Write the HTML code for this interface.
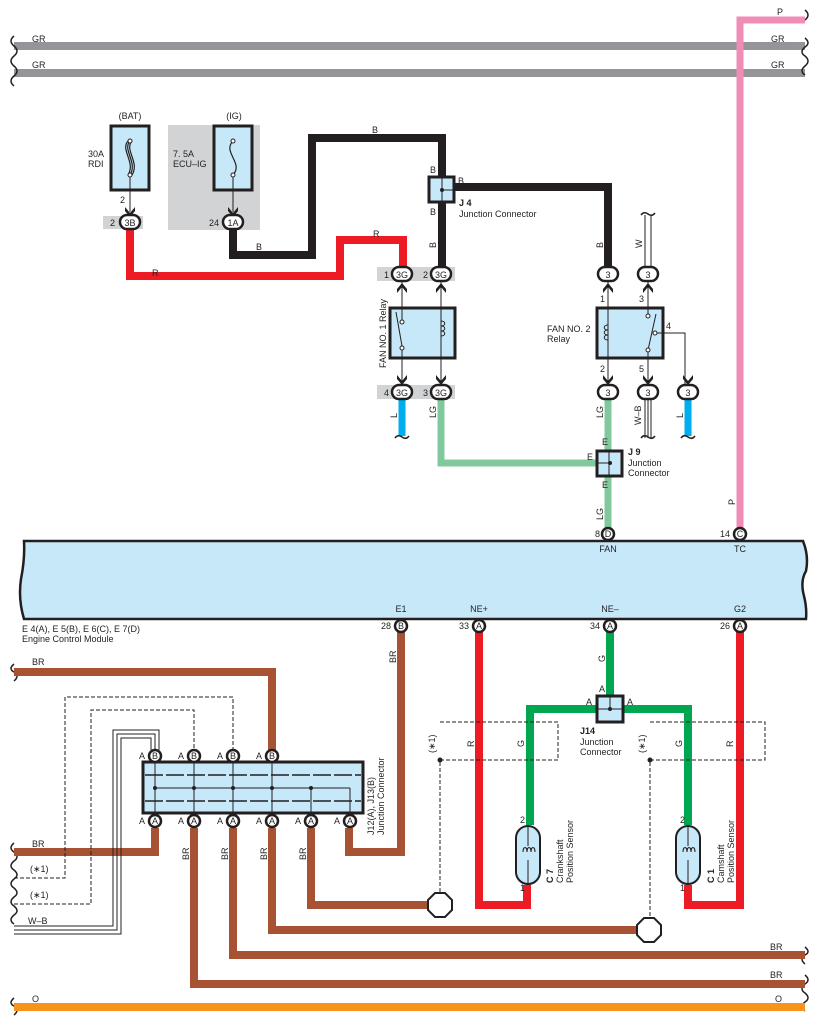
<!DOCTYPE html>
<html><head><meta charset="utf-8"><style>
html,body{margin:0;padding:0;background:#fff}
svg{display:block}
text{font-family:"Liberation Sans",sans-serif;font-size:9px;fill:#231f20}
</style></head><body>
<svg width="817" height="1030" viewBox="0 0 817 1030" xmlns="http://www.w3.org/2000/svg">
<defs>
<g id="ad"><path d="M-5,-5 L0,1 L5,-5 L5,-1 L0,5 L-5,-1Z" fill="#231f20"/></g>
</defs>
<g fill="none" stroke-linejoin="miter">
<path d="M14,46H805M14,73H805" stroke="#939598" stroke-width="8"/>
<g stroke="#231f20" stroke-width="1.5">
<path d="M14,36q-6,5 0,10q6,5 0,10q-6,5 0,10q6,5 0,10q-6,5 0,10"/>
<path d="M14,664q-6,5 0,8q6,4 0,9"/>
<path d="M14,843q-6,5 0,9q6,5 0,9q-6,5 0,9q6,5 0,9q-6,5 0,9q6,5 0,9q-6,5 0,9q6,5 0,9q-6,5 0,9"/>
<path d="M14,998q-6,5 0,8q6,4 0,9"/>
<path d="M805,10q6,5 0,10M805,38q6,5 0,9q-6,5 0,9q6,5 0,10q-6,5 0,9"/>
<path d="M805,947q6,5 0,8q-6,4 0,9M805,975q6,5 0,9q-6,5 0,9q6,5 0,9q-6,5 0,9"/>
</g>
<path d="M740,528V20H805" stroke="#f08cb6" stroke-width="7"/>
</g>
<rect x="168" y="125" width="92" height="105" fill="#d1d3d4"/>
<rect x="103" y="216" width="40" height="13" fill="#d1d3d4"/>
<rect x="377" y="267" width="78" height="14" fill="#d1d3d4"/>
<rect x="377" y="385" width="78" height="14" fill="#d1d3d4"/>
<g fill="none">
<path d="M130,229V276H340V240H403V268" stroke="#ed1c24" stroke-width="8"/>
<path d="M233,229V255H312V138H442V180M442,203V268M455,187H608V268" stroke="#231f20" stroke-width="8"/>
<path d="M402,399V436" stroke="#00aeef" stroke-width="7"/>
<path d="M441,399V463H600" stroke="#80c99c" stroke-width="7"/>
<path d="M608,399V452M608,476V528" stroke="#80c99c" stroke-width="7"/>
<path d="M688,399V436" stroke="#00aeef" stroke-width="7"/>
<path d="M645,215V267M651,215V267" stroke="#231f20" stroke-width="1"/>
<path d="M645,399V438M648,399V438M651,399V438" stroke="#231f20" stroke-width="1"/>
<g stroke="#231f20" stroke-width="1.5">
<path d="M395,438q3,-4 7,-1q4,3 7,-1"/>
<path d="M641,215q3,-4 7,-1q4,3 7,-1"/>
<path d="M641,438q3,-4 7,-1q4,3 7,-1"/>
<path d="M681,438q3,-4 7,-1q4,3 7,-1"/>
</g>
<path d="M24,541H803q6,15 3,30q-6,10 -2,25q3,12 2,23H24q-6,-20 -3,-40q4,-20 3,-38Z" fill="#c7e8f9" stroke="#231f20" stroke-width="2.5"/>
<path d="M401,632V852H349V828" stroke="#a65233" stroke-width="8"/>
<path d="M479,632V905H527V885" stroke="#ed1c24" stroke-width="8"/>
<path d="M740,632V905H688V885" stroke="#ed1c24" stroke-width="8"/>
<path d="M610,632V696M597,709H530V825M623,709H688V825" stroke="#00a650" stroke-width="8"/>
<path d="M14,672H272V750" stroke="#a65233" stroke-width="8"/>
<path d="M155,828V852H14" stroke="#a65233" stroke-width="8"/>
<path d="M194,828V984H805M233,828V955H805M272,828V930H637M311,828V905H428" stroke="#a65233" stroke-width="8"/>
<path d="M14,1007H805" stroke="#f7941d" stroke-width="8"/>
<g stroke="#231f20" stroke-width="1" stroke-dasharray="4,2">
<path d="M14,878H65V697H233V750M14,904H91V710H194V750"/>
<path d="M440,722H558V760H440V893M650,722H765V760H650V918"/>
</g>
<g stroke="#231f20" stroke-width="1">
<path d="M14,926H113V730H159V750M14,930H117V734H155V750M14,934H121V738H151V750"/>
</g>
</g>
<g fill="#231f20"><circle cx="440" cy="760" r="2.5"/><circle cx="650" cy="760" r="2.5"/></g>
<polygon points="435,893 445,893 452,900 452,910 445,917 435,917 428,910 428,900" fill="#fff" stroke="#231f20" stroke-width="2"/>
<polygon points="644,918 654,918 661,925 661,935 654,942 644,942 637,935 637,925" fill="#fff" stroke="#231f20" stroke-width="2"/>
<rect x="111" y="126" width="38" height="64" fill="#c7e8f9" stroke="#231f20" stroke-width="3"/>
<path d="M130,141C122,150 138,162 130,175M128,141C120,150 136,162 128,175M132,141C124,150 140,162 132,175" fill="none" stroke="#231f20" stroke-width="1.2"/>
<rect x="214" y="126" width="38" height="64" fill="#c7e8f9" stroke="#231f20" stroke-width="3"/>
<path d="M233,141C222,152 244,163 233,175" fill="none" stroke="#231f20" stroke-width="1.2"/>
<g fill="#fff" stroke="#231f20" stroke-width="1"><circle cx="130" cy="141" r="2"/><circle cx="130" cy="175" r="2"/><circle cx="233" cy="141" r="2"/><circle cx="233" cy="175" r="2"/></g>
<path d="M130,177V212M233,177V212" stroke="#231f20" stroke-width="1"/>
<use href="#ad" x="130" y="212"/><use href="#ad" x="233" y="212"/>
<rect x="429" y="177" width="25" height="25" fill="#c7e8f9" stroke="#231f20" stroke-width="3"/>
<path d="M442,177V202M442,190H454" stroke="#231f20" stroke-width="1"/><circle cx="442" cy="190" r="2" fill="#231f20"/>
<rect x="390" y="308" width="65" height="50" fill="#c7e8f9" stroke="#231f20" stroke-width="3"/>
<path d="M402,282V320M402,350V385M441,282V385M396,312L402,346" stroke="#231f20" stroke-width="1" fill="none"/>
<path d="M441,321c5,0 5,5 0,5c5,0 5,5 0,5c5,0 5,5 0,5" fill="none" stroke="#231f20" stroke-width="1"/>
<g fill="#fff" stroke="#231f20"><circle cx="402" cy="322" r="2"/><circle cx="402" cy="348" r="2"/></g>
<use href="#ad" x="402" y="288" transform="rotate(180 402 288)"/><use href="#ad" x="441" y="288" transform="rotate(180 441 288)"/>
<use href="#ad" x="402" y="380"/><use href="#ad" x="441" y="380"/>
<rect x="597" y="308" width="66" height="50" fill="#c7e8f9" stroke="#231f20" stroke-width="3"/>
<path d="M608,282V385M648,282V315M648,350V385M656,314L648,350M656,333H685V385" stroke="#231f20" stroke-width="1" fill="none"/>
<path d="M608,325c-5,0 -5,5 0,5c-5,0 -5,5 0,5c-5,0 -5,5 0,5" fill="none" stroke="#231f20" stroke-width="1"/>
<g fill="#fff" stroke="#231f20"><circle cx="648" cy="316" r="2"/><circle cx="648" cy="350" r="2"/><circle cx="655" cy="333" r="2"/></g>
<use href="#ad" x="608" y="288" transform="rotate(180 608 288)"/><use href="#ad" x="648" y="288" transform="rotate(180 648 288)"/>
<use href="#ad" x="608" y="380"/><use href="#ad" x="648" y="380"/><use href="#ad" x="688" y="380"/>
<rect x="597" y="451" width="25" height="25" fill="#c7e8f9" stroke="#231f20" stroke-width="3"/>
<path d="M609,451V476M597,463H609" stroke="#231f20" stroke-width="1"/><circle cx="610" cy="463" r="2" fill="#231f20"/>
<rect x="597" y="696" width="26" height="26" fill="#c7e8f9" stroke="#231f20" stroke-width="3"/>
<path d="M610,696V709M597,709H623" stroke="#231f20" stroke-width="1"/><circle cx="610" cy="709" r="2" fill="#231f20"/>
<g fill="#c7e8f9" stroke="#231f20" stroke-width="2">
<rect x="516" y="826" width="24" height="58" rx="12"/><rect x="676" y="826" width="24" height="58" rx="12"/></g>
<path d="M528,826V846M528,860V884M688,826V846M688,860V884" stroke="#231f20" stroke-width="1"/>
<path d="M523,852c0,-6 4,-6 4,0c0,-6 4,-6 4,0c0,-6 4,-6 4,0M683,852c0,-6 4,-6 4,0c0,-6 4,-6 4,0c0,-6 4,-6 4,0" fill="none" stroke="#231f20" stroke-width="1"/>
<rect x="143" y="762" width="220" height="51" fill="#c7e8f9" stroke="#231f20" stroke-width="3"/>
<path d="M145,775H361M145,801H361" stroke="#231f20" stroke-width="1.5" stroke-dasharray="18,3"/>
<path d="M155,762V813M194,762V813M233,762V813M272,762V813M311,788V813M350,788V813M155,788H350" stroke="#231f20" stroke-width="1"/>
<g fill="#231f20"><circle cx="155" cy="788" r="2"/><circle cx="194" cy="788" r="2"/><circle cx="233" cy="788" r="2"/><circle cx="272" cy="788" r="2"/><circle cx="311" cy="788" r="2"/></g>
<g fill="#fff" stroke="#231f20" stroke-width="2.5">
<rect x="120" y="215" width="20" height="14" rx="7"/><rect x="223" y="215" width="20" height="14" rx="7"/>
<rect x="392" y="267" width="20" height="14" rx="7"/><rect x="431" y="267" width="20" height="14" rx="7"/>
<rect x="392" y="385" width="20" height="14" rx="7"/><rect x="431" y="385" width="20" height="14" rx="7"/>
<rect x="598" y="267" width="20" height="14" rx="7"/><rect x="638" y="267" width="20" height="14" rx="7"/>
<rect x="598" y="385" width="20" height="14" rx="7"/><rect x="638" y="385" width="20" height="14" rx="7"/><rect x="678" y="385" width="20" height="14" rx="7"/>
</g>
<g fill="#fff" stroke="#231f20" stroke-width="2.5">
<circle cx="608" cy="534" r="6"/><circle cx="740" cy="534" r="6"/>
<circle cx="401" cy="626" r="6"/><circle cx="479" cy="626" r="6"/><circle cx="610" cy="626" r="6"/><circle cx="740" cy="626" r="6"/>
<circle cx="155" cy="756" r="6"/><circle cx="194" cy="756" r="6"/><circle cx="233" cy="756" r="6"/><circle cx="272" cy="756" r="6"/>
<circle cx="155" cy="821" r="6"/><circle cx="194" cy="821" r="6"/><circle cx="233" cy="821" r="6"/><circle cx="272" cy="821" r="6"/><circle cx="311" cy="821" r="6"/><circle cx="350" cy="821" r="6"/>
</g>
<g text-anchor="middle">
<text x="130" y="226">3B</text><text x="233" y="226">1A</text>
<text x="402" y="278">3G</text><text x="441" y="278">3G</text><text x="402" y="396">3G</text><text x="441" y="396">3G</text>
<text x="608" y="278">3</text><text x="648" y="278">3</text><text x="608" y="396">3</text><text x="648" y="396">3</text><text x="688" y="396">3</text>
<text x="608" y="537">D</text><text x="740" y="537">C</text>
<text x="401" y="629">B</text><text x="479" y="629">A</text><text x="610" y="629">A</text><text x="740" y="629">A</text>
<text x="155" y="759">B</text><text x="194" y="759">B</text><text x="233" y="759">B</text><text x="272" y="759">B</text>
<text x="155" y="824">A</text><text x="194" y="824">A</text><text x="233" y="824">A</text><text x="272" y="824">A</text><text x="311" y="824">A</text><text x="350" y="824">A</text>
<text x="130" y="119">(BAT)</text><text x="234" y="119">(IG)</text>
<text x="608" y="552">FAN</text><text x="740" y="552">TC</text>
<text x="401" y="612">E1</text><text x="479" y="612">NE+</text><text x="610" y="612">NE–</text><text x="740" y="612">G2</text>
</g>
<text x="777" y="15">P</text>
<text x="32" y="42">GR</text><text x="771" y="42">GR</text><text x="32" y="68">GR</text><text x="771" y="68">GR</text>
<text x="88" y="157">30A</text><text x="88" y="167">RDI</text>
<text x="173" y="157">7. 5A</text><text x="173" y="167">ECU–IG</text>
<text x="120" y="203">2</text><text x="110" y="226">2</text><text x="209" y="226">24</text>
<text x="152" y="276">R</text><text x="256" y="250">B</text><text x="372" y="133">B</text><text x="373" y="237">R</text>
<text x="430" y="173">B</text><text x="458" y="184">B</text><text x="430" y="215">B</text>
<text x="459" y="206" font-weight="bold">J 4</text><text x="459" y="217">Junction Connector</text>
<text x="384" y="278">1</text><text x="423" y="278">2</text><text x="384" y="396">4</text><text x="423" y="396">3</text>
<text x="600" y="302">1</text><text x="639" y="302">3</text><text x="600" y="372">2</text><text x="639" y="372">5</text><text x="666" y="329">4</text>
<text x="547" y="332">FAN NO. 2</text><text x="547" y="342">Relay</text>
<text x="602" y="445">E</text><text x="587" y="460">E</text><text x="602" y="488">E</text>
<text x="628" y="455" font-weight="bold">J 9</text><text x="628" y="466">Junction</text><text x="628" y="476">Connector</text>
<text x="595" y="537">8</text><text x="720" y="537">14</text>
<text x="381" y="629">28</text><text x="459" y="629">33</text><text x="590" y="629">34</text><text x="720" y="629">26</text>
<text x="22" y="632">E 4(A), E 5(B), E 6(C), E 7(D)</text><text x="22" y="642">Engine Control Module</text>
<text x="32" y="665">BR</text><text x="32" y="847">BR</text><text x="30" y="872">(∗1)</text><text x="30" y="898">(∗1)</text><text x="28" y="924">W–B</text>
<text x="770" y="950">BR</text><text x="770" y="978">BR</text><text x="32" y="1002">O</text><text x="775" y="1002">O</text>
<g><text x="139" y="759">A</text><text x="178" y="759">A</text><text x="217" y="759">A</text><text x="256" y="759">A</text>
<text x="139" y="824">A</text><text x="178" y="824">A</text><text x="217" y="824">A</text><text x="256" y="824">A</text><text x="295" y="824">A</text><text x="334" y="824">A</text></g>
<text x="599" y="692">A</text><text x="586" y="705">A</text><text x="627" y="705">A</text>
<text x="580" y="734" font-weight="bold">J14</text><text x="580" y="745">Junction</text><text x="580" y="755">Connector</text>
<text x="520" y="823">2</text><text x="680" y="823">2</text><text x="520" y="891">1</text><text x="680" y="891">1</text>
<g>
<text transform="translate(386,368) rotate(-90)">FAN NO. 1  Relay</text>
<text transform="translate(436,248) rotate(-90)">B</text>
<text transform="translate(603,248) rotate(-90)">B</text>
<text transform="translate(642,248) rotate(-90)">W</text>
<text transform="translate(397,418) rotate(-90)">L</text>
<text transform="translate(436,418) rotate(-90)">LG</text>
<text transform="translate(603,418) rotate(-90)">LG</text>
<text transform="translate(641,425) rotate(-90)">W–B</text>
<text transform="translate(683,418) rotate(-90)">L</text>
<text transform="translate(603,520) rotate(-90)">LG</text>
<text transform="translate(735,505) rotate(-90)">P</text>
<text transform="translate(396,663) rotate(-90)">BR</text>
<text transform="translate(605,662) rotate(-90)">G</text>
<text transform="translate(189,860) rotate(-90)">BR</text>
<text transform="translate(228,860) rotate(-90)">BR</text>
<text transform="translate(267,860) rotate(-90)">BR</text>
<text transform="translate(306,860) rotate(-90)">BR</text>
<text transform="translate(374,835) rotate(-90)">J12(A), J13(B)</text>
<text transform="translate(384,835) rotate(-90)">Junction Connector</text>
<text transform="translate(474,747) rotate(-90)">R</text>
<text transform="translate(524,747) rotate(-90)">G</text>
<text transform="translate(435,753) rotate(-90)">(∗1)</text>
<text transform="translate(645,753) rotate(-90)">(∗1)</text>
<text transform="translate(682,747) rotate(-90)">G</text>
<text transform="translate(733,747) rotate(-90)">R</text>
<text transform="translate(553,883) rotate(-90)" font-weight="bold">C 7</text>
<text transform="translate(563,883) rotate(-90)">Crankshaft</text>
<text transform="translate(573,883) rotate(-90)">Position Sensor</text>
<text transform="translate(714,883) rotate(-90)" font-weight="bold">C 1</text>
<text transform="translate(724,883) rotate(-90)">Camshaft</text>
<text transform="translate(734,883) rotate(-90)">Position Sensor</text>
</g>
</svg>
</body></html>
